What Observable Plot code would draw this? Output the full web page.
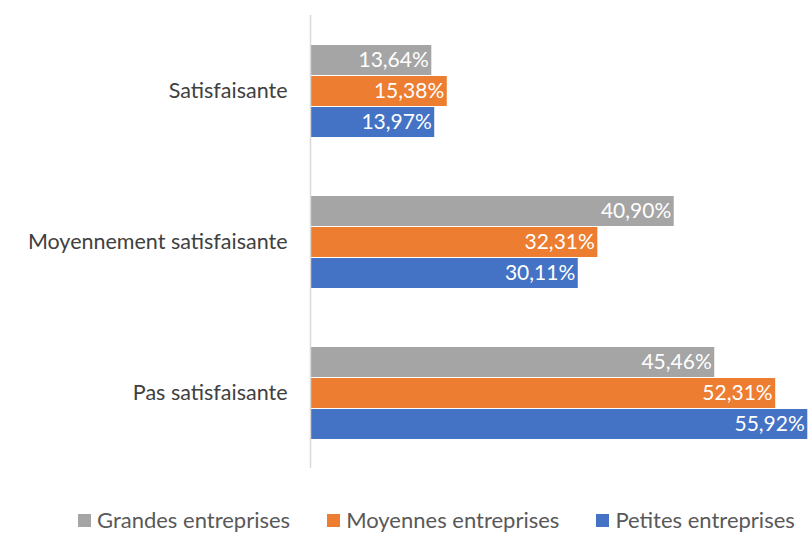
<!DOCTYPE html>
<html>
<head>
<meta charset="utf-8">
<script src="https://cdn.jsdelivr.net/npm/d3@7"></script>
<script src="https://cdn.jsdelivr.net/npm/@observablehq/plot@0.6"></script>
<style>
  html, body { margin: 0; padding: 0; background: #ffffff; overflow: hidden; }
  body { width: 808px; height: 533px; font-family: Lato, "Open Sans", sans-serif; }
  #chart svg { display: block; }
  #legend { display: flex; align-items: center; padding-top: 3px; height: 24px; line-height: 24px; margin-left: 78px; font-size: 22px; color: #595959; }
  #legend .item { display: flex; align-items: center; margin-right: 37px; white-space: nowrap; }
  #legend .sw { width: 13px; height: 13px; margin-right: 6px; display: inline-block; }
</style>
</head>
<body>
<div id="chart"></div>
<div id="legend"></div>
<script>
const categories = ["Satisfaisante", "Moyennement satisfaisante", "Pas satisfaisante"];
const series = ["Grandes entreprises", "Moyennes entreprises", "Petites entreprises"];
const colors = ["#A5A5A5", "#ED7D31", "#4472C4"];
const grandes = [13.64, 40.90, 45.46];
const moyennes = [15.38, 32.31, 52.31];
const petites = [13.97, 30.11, 55.92];

const seriesValues = [grandes, moyennes, petites];
const data = [];
categories.forEach((c, i) => {
  series.forEach((s, j) => {
    data.push({category: c, series: s, value: seriesValues[j][i]});
  });
});

const fmt = v => v.toFixed(2).replace(".", ",") + "%";

const chart = Plot.plot({
  width: 808,
  height: 505,
  marginLeft: 310,
  marginRight: 0,
  marginTop: 14,
  marginBottom: 37,
  style: {fontFamily: "Lato, 'Open Sans', sans-serif", background: "transparent"},
  x: {domain: [0, 56], axis: null},
  y: {domain: series, axis: null, paddingInner: 0.04, paddingOuter: 0.9},
  fy: {domain: categories, padding: 0, label: null, axis: null},
  color: {domain: series, range: colors},
  marks: [
    Plot.axisFy({anchor: "left", tickSize: 0, tickPadding: 23, fontSize: 21.5, fill: "#404040", label: null}),
    Plot.barX(data, {fy: "category", y: "series", x: "value", fill: "series"}),
    Plot.ruleX([0], {stroke: "#D9D9D9", strokeWidth: 1.5}),
    Plot.text(data, {fy: "category", y: "series", x: "value", text: d => fmt(d.value), textAnchor: "end", dx: -3, fill: "white", fontSize: 21})
  ]
});
document.getElementById("chart").appendChild(chart);

const legend = d3.select("#legend");
series.forEach((s, j) => {
  const item = legend.append("div").attr("class", "item");
  item.append("span").attr("class", "sw").style("background", colors[j]);
  item.append("span").text(s);
});
</script>
</body>
</html>
